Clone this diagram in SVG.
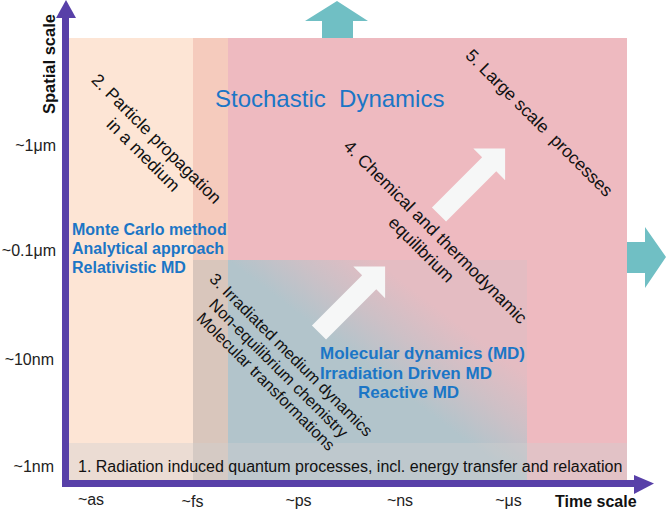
<svg xmlns="http://www.w3.org/2000/svg" width="666" height="511" viewBox="0 0 666 511">
<style>
.t{font-family:"Liberation Sans",Arial,sans-serif;}
.blk{fill:#111;}
.blue{fill:#1B76C6;}
.bb{font-weight:bold;font-size:16px;fill:#1B76C6;}
.tick{font-size:16px;fill:#222;}
.rot{font-size:17.5px;fill:#111;text-anchor:middle;}
.axis{fill:#5840A8;}
.teal{fill:#70BFC4;}
.warrow{fill:#F6F7F7;}
</style>
<defs>
<linearGradient id="mdgrad" gradientUnits="userSpaceOnUse" x1="392" y1="385" x2="446" y2="314">
<stop offset="0" stop-color="#B2C4CB"/>
<stop offset="0.5" stop-color="#CDC0C6"/>
<stop offset="1" stop-color="#E4BCC2"/>
</linearGradient>
<path id="bigArrow" d="M0,-10 L71,-10 L71,-22.5 L93.5,0 L71,22.5 L71,10 L0,10 Z"/>
</defs>

<g id="background">
<rect x="69" y="38" width="124" height="442" fill="#FDE5D5"/>
<rect x="193" y="38" width="35" height="222" fill="#F5CBBD"/>
<rect x="193" y="260" width="35" height="220" fill="#D9C6BC"/>
<rect x="228" y="38" width="399" height="442" fill="#EEBAC0"/>
<rect x="228" y="260" width="299" height="220" fill="url(#mdgrad)"/>
<rect x="69" y="443" width="558" height="37" fill="#CFCFCF" opacity="0.4"/>
</g>

<g id="connectors">
<polygon class="teal" points="322,38 322,21 305,21 337,1 368,21 353,21 353,38"/>
<polygon class="teal" points="627,242 645,242 645,227 666,257 645,288 645,273 627,273"/>
<use href="#bigArrow" class="warrow" transform="translate(319,332.5) rotate(-45)"/>
<use href="#bigArrow" class="warrow" transform="translate(439,214.5) rotate(-45)"/>
</g>

<g id="axes">
<rect class="axis" x="62" y="16" width="7" height="471"/>
<polygon class="axis" points="56,18 66,0 76,18"/>
<rect class="axis" x="62" y="480" width="574" height="7"/>
<polygon class="axis" points="634,475 654,483.5 634,494"/>
<text class="t" x="55" y="64" transform="rotate(-90 55 64)" text-anchor="middle" font-weight="bold" font-size="16.5" fill="#111">Spatial scale</text>
<text class="t" x="555" y="507" font-weight="bold" font-size="16" fill="#111">Time scale</text>
<text class="t tick" x="56" y="151" text-anchor="end">~1μm</text>
<text class="t tick" x="56" y="256" text-anchor="end">~0.1μm</text>
<text class="t tick" x="54" y="365" text-anchor="end">~10nm</text>
<text class="t tick" x="54" y="472" text-anchor="end">~1nm</text>
<text class="t tick" x="91" y="505" text-anchor="middle">~as</text>
<text class="t tick" x="192.5" y="507" text-anchor="middle">~fs</text>
<text class="t tick" x="298.5" y="506" text-anchor="middle">~ps</text>
<text class="t tick" x="400" y="506" text-anchor="middle">~ns</text>
<text class="t tick" x="508.5" y="506" text-anchor="middle">~μs</text>
</g>

<g id="node-stochastic">
<text class="t blue" x="215" y="107" font-size="24" xml:space="preserve">Stochastic  Dynamics</text>
</g>

<g id="node-1-quantum">
<text class="t blk" x="78" y="472" font-size="16">1. Radiation induced quantum processes, incl. energy transfer and relaxation</text>
</g>

<g id="node-2-particle">
<text class="t rot" transform="translate(152.3,143) rotate(45)">2. Particle propagation</text>
<text class="t rot" transform="translate(139.2,159.1) rotate(45)">in a medium</text>
</g>

<g id="node-methods-mc">
<text class="t bb" x="72" y="235">Monte Carlo method</text>
<text class="t bb" x="72" y="254">Analytical approach</text>
<text class="t bb" x="72" y="273">Relativistic MD</text>
</g>

<g id="node-3-irradiated">
<text class="t rot" style="font-size:16.3px" transform="translate(287.3,358.7) rotate(45)">3. Irradiated medium dynamics</text>
<text class="t rot" style="font-size:16.3px" transform="translate(274.6,372.1) rotate(45)">Non-equilibrium chemistry</text>
<text class="t rot" style="font-size:16.3px" transform="translate(262,385.5) rotate(45)">Molecular transformations</text>
</g>

<g id="node-4-chemical">
<text class="t rot" transform="translate(431.2,236.1) rotate(45)">4. Chemical and thermodynamic</text>
<text class="t rot" transform="translate(417.2,253.7) rotate(45)">equilibrium</text>
</g>

<g id="node-5-large">
<text class="t rot" xml:space="preserve" transform="translate(535.1,127.1) rotate(45)">5. Large scale  processes</text>
</g>

<g id="node-methods-md">
<text class="t bb" style="font-size:17px" x="320" y="359">Molecular dynamics (MD)</text>
<text class="t bb" style="font-size:17px" x="320" y="379">Irradiation Driven MD</text>
<text class="t bb" style="font-size:17px" x="358" y="398">Reactive MD</text>
</g>
</svg>
